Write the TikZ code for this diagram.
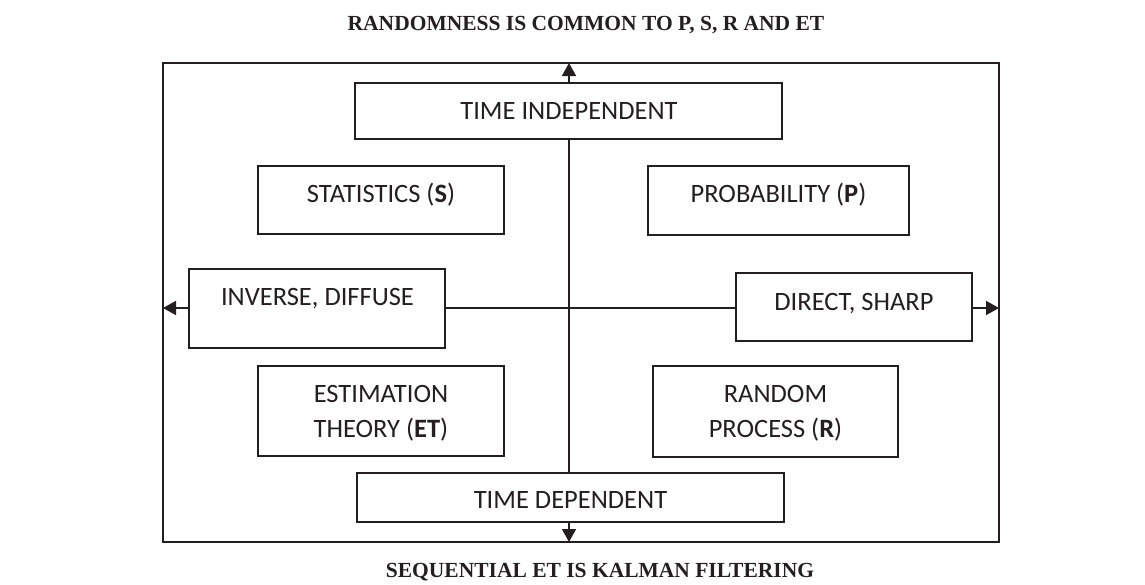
\documentclass[tikz,border=0pt]{standalone}
\usepackage{fontspec}
\setmainfont{Carlito}
\newfontfamily\titlefont{Liberation Serif}
\usetikzlibrary{arrows.meta}
\definecolor{ink}{HTML}{231F20}
\tikzset{
  box/.style={draw=ink, line width=1.6pt, rectangle, inner sep=0pt},
  lbl/.style={inner sep=0pt, anchor=base, text=ink, font=\fontsize{26.5}{32}\selectfont},
  ttl/.style={inner sep=0pt, anchor=base, text=ink, font=\titlefont\bfseries\fontsize{21.5}{26}\selectfont},
  ln/.style={draw=ink, line width=1.6pt},
  arr/.style={ln, -{Triangle[length=13pt,width=14pt]}}
}
\begin{document}
\begin{tikzpicture}[x=1pt,y=-1pt]
\useasboundingbox (0,0) rectangle (1145,584);
% titles
\node[ttl] (t1) at (586,30) {RANDOMNESS IS COMMON TO P, S, R AND ET};
\node[ttl] (t2) at (600,577) {SEQUENTIAL ET IS KALMAN FILTERING};
% frame
\node[box, minimum width=836pt, minimum height=479pt] (frame) at (581,302.5) {};
% boxes
\node[box, minimum width=427pt, minimum height=56pt] (ti) at (568.5,111) {};
\node[box, minimum width=246pt, minimum height=68pt] (st) at (381,200) {};
\node[box, minimum width=261pt, minimum height=69pt] (pr) at (778.5,200.5) {};
\node[box, minimum width=256pt, minimum height=79pt] (inv) at (317,308.5) {};
\node[box, minimum width=236pt, minimum height=68pt] (dir) at (854,307) {};
\node[box, minimum width=246pt, minimum height=90pt] (et) at (381,411) {};
\node[box, minimum width=245pt, minimum height=91pt] (rp) at (775.5,411.5) {};
\node[box, minimum width=427pt, minimum height=49pt] (td) at (570.5,497.5) {};
% texts
\node[lbl] (tiT) at (569,119) {TIME INDEPENDENT};
\node[lbl] (stT) at (381,202) {STATISTICS (\textbf{S})};
\node[lbl] (prT) at (778.5,202) {PROBABILITY (\textbf{P})};
\node[lbl] (invT) at (317.5,305) {INVERSE, DIFFUSE};
\node[lbl] (dirT) at (854,310) {DIRECT, SHARP};
\node[lbl] (etT1) at (381,402) {ESTIMATION};
\node[lbl] (etT2) at (381,437) {THEORY (\textbf{ET})};
\node[lbl] (rpT1) at (775.5,402) {RANDOM};
\node[lbl] (rpT2) at (775.5,437) {PROCESS (\textbf{R})};
\node[lbl] (tdT) at (570.5,508) {TIME DEPENDENT};
% axes
\coordinate (vt) at (569,139);
\coordinate (vb) at (569,473);
\coordinate (hl) at (445,308);
\coordinate (hr) at (736,308);
\coordinate (atop) at (569,63);
\coordinate (abot) at (569,542);
\coordinate (aleft) at (163,308);
\coordinate (aright) at (999,308);
\draw[ln] (vb) -- (vt);
\draw[ln] (hl) -- (hr);
\draw[arr] (569,83) -- (atop);
\draw[arr] (569,522) -- (abot);
\draw[arr] (189,308) -- (aleft);
\draw[arr] (972,308) -- (aright);
\end{tikzpicture}
\end{document}
